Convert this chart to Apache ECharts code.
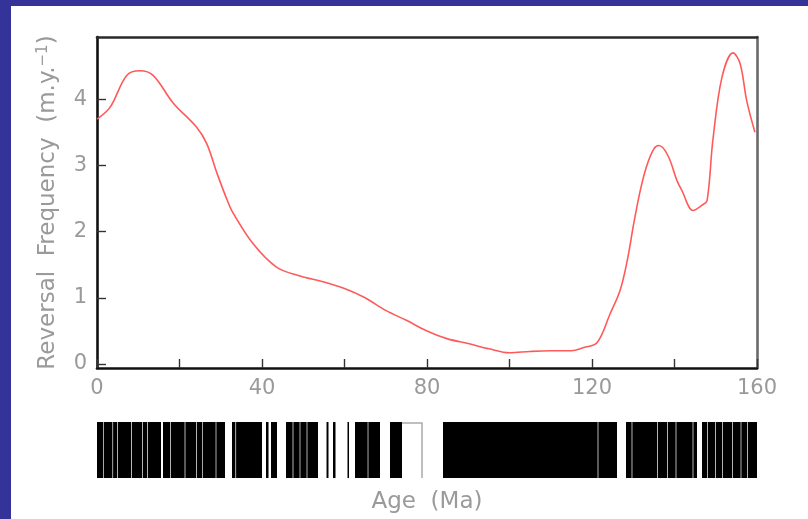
<!DOCTYPE html>
<html>
<head>
<meta charset="utf-8">
<script src="https://cdn.jsdelivr.net/npm/echarts@6/dist/echarts.min.js"></script>
<style>
html,body{margin:0;padding:0;width:808px;height:519px;background:#333399;overflow:hidden;}
#paper{position:absolute;left:11px;top:6px;right:0;bottom:0;background:#fff;}
#chart{position:absolute;left:0;top:0;width:808px;height:519px;}
</style>
</head>
<body>
<div id="paper"></div>
<div id="chart"></div>
<script>
// ---- Reversal frequency curve (age in Ma, frequency in reversals per m.y.) ----
const curveAge  = [0, 3.2, 7.2, 10.4, 13.6, 18.5, 24.1, 26.6, 29.1, 31.6, 33, 37.8, 43.6, 49.2, 55, 60, 65, 70, 75, 80, 85, 90, 95, 100, 105, 110, 115, 118, 121.2, 124.4, 126.8, 128.5, 130.2, 131.8, 133.3, 135, 136.2, 138.4, 140.6, 141.8, 144.5, 146.7, 147.9, 149.3, 151.5, 154.2, 155.9, 157.5, 159.5];
const curveFreq = [3.7, 3.88, 4.36, 4.43, 4.36, 3.94, 3.58, 3.33, 2.88, 2.47, 2.28, 1.82, 1.46, 1.33, 1.24, 1.14, 1.0, 0.81, 0.66, 0.5, 0.38, 0.31, 0.23, 0.17, 0.19, 0.2, 0.2, 0.25, 0.32, 0.76, 1.11, 1.55, 2.15, 2.65, 3.0, 3.25, 3.3, 3.15, 2.77, 2.62, 2.32, 2.4, 2.47, 3.38, 4.33, 4.7, 4.54, 3.98, 3.5];

// ---- Polarity time scale: normal (black) intervals, Ma ----
const normalStart = [0.00, 1.65, 3.90, 5.05, 8.45, 11.11, 12.32, 16.00, 17.90, 21.42, 24.20, 25.65, 28.93, 32.73, 33.72, 40.97, 42.18, 45.82, 47.60, 49.29, 50.99, 55.64, 57.21, 60.73, 62.55, 65.78, 71.03, 83.88, 121.54, 128.24, 129.78, 135.96, 138.38, 140.45, 144.57, 146.67, 148.08, 150.02, 151.72, 154.14, 156.20, 157.78];
const normalEnd   = [1.50, 3.74, 4.89, 8.28, 10.95, 12.16, 15.52, 17.74, 21.25, 24.04, 25.50, 28.77, 31.03, 33.55, 40.00, 41.58, 43.64, 47.43, 49.13, 50.83, 53.58, 56.12, 57.82, 61.09, 65.62, 68.61, 73.94, 121.37, 126.06, 129.61, 135.80, 138.22, 140.28, 144.40, 145.45, 147.92, 149.86, 151.56, 153.98, 156.04, 157.62, 160.00];
const uncertainStart = [73.94];
const uncertainEnd   = [78.79];

// ---- Axis ticks ----
const yTickValues  = [0, 1, 2, 3, 4];
const xTickValues  = [0, 20, 40, 60, 80, 100, 120, 140, 160];
const xLabelValues = [0, 40, 80, 120, 160];

const curveData = curveAge.map((a, i) => [a, curveFreq[i]]);
const normalData = normalStart.map((s, i) => [s, normalEnd[i]]);
const uncertainData = uncertainStart.map((s, i) => [s, uncertainEnd[i]]);

const FONT = 'DejaVu Sans';
const GREY = '#9a9a9a';

const chart = echarts.init(document.getElementById('chart'), null, {renderer: 'canvas'});
chart.setOption({
  backgroundColor: 'transparent',
  animation: false,
  grid: [
    {left: 97, right: 51, top: 37, height: 331},
    {left: 97, right: 51, top: 422, height: 56}
  ],
  xAxis: [
    {
      type: 'value', gridIndex: 0, min: 0, max: 160, position: 'bottom',
      axisLine: {show: true, onZero: false, lineStyle: {color: '#111', width: 2.6}},
      axisTick: {show: true, inside: true, length: 9, customValues: xTickValues, lineStyle: {color: '#333', width: 1.4}},
      axisLabel: {show: true, customValues: xLabelValues, margin: 10, color: GREY, fontFamily: FONT, fontSize: 21},
      splitLine: {show: false}
    },
    {
      type: 'value', gridIndex: 0, min: 0, max: 160, position: 'top',
      axisLine: {show: true, onZero: false, lineStyle: {color: '#2a2a2a', width: 2.6}},
      axisTick: {show: false}, axisLabel: {show: false}, splitLine: {show: false}
    },
    {
      type: 'value', gridIndex: 1, min: 0, max: 160,
      axisLine: {show: false}, axisTick: {show: false}, axisLabel: {show: false}, splitLine: {show: false},
      name: 'Age  (Ma)', nameLocation: 'middle', nameGap: 13,
      nameTextStyle: {color: GREY, fontFamily: FONT, fontSize: 23}
    }
  ],
  yAxis: [
    {
      type: 'value', gridIndex: 0, min: -0.06, max: 4.94, position: 'left',
      axisLine: {show: true, onZero: false, lineStyle: {color: '#111', width: 2.6}},
      axisTick: {show: true, inside: true, length: 9, customValues: yTickValues, lineStyle: {color: '#333', width: 1.4}},
      axisLabel: {show: true, customValues: yTickValues, margin: 10, color: GREY, fontFamily: FONT, fontSize: 21},
      splitLine: {show: false},
      name: 'Reversal  Frequency  (m.y.{sup|−1})', nameLocation: 'middle', nameGap: 36,
      nameTextStyle: {color: GREY, fontFamily: FONT, fontSize: 23,
        rich: {sup: {color: GREY, fontFamily: FONT, fontSize: 15, padding: [0, 0, 10, 0]}}}
    },
    {
      type: 'value', gridIndex: 0, min: -0.06, max: 4.94, position: 'right',
      axisLine: {show: true, onZero: false, lineStyle: {color: '#6a6a6a', width: 2.6}},
      axisTick: {show: false}, axisLabel: {show: false}, splitLine: {show: false}
    },
    {
      type: 'value', gridIndex: 1, min: 0, max: 1,
      axisLine: {show: false}, axisTick: {show: false}, axisLabel: {show: false}, splitLine: {show: false}
    }
  ],
  series: [
    {
      type: 'line', xAxisIndex: 0, yAxisIndex: 0, data: curveData,
      smooth: 0.35, showSymbol: false, symbol: 'none',
      lineStyle: {color: '#ff5a5a', width: 1.6}, z: 5
    },
    {
      type: 'custom', xAxisIndex: 2, yAxisIndex: 2, data: normalData,
      renderItem: function (params, api) {
        const p0 = api.coord([api.value(0), 0]);
        const p1 = api.coord([api.value(1), 1]);
        return {type: 'rect', shape: {x: p0[0], y: p1[1], width: p1[0] - p0[0], height: p0[1] - p1[1]},
          style: {fill: '#000'}};
      }
    },
    {
      type: 'custom', xAxisIndex: 2, yAxisIndex: 2, data: uncertainData,
      renderItem: function (params, api) {
        const p0 = api.coord([api.value(0), 0]);
        const p1 = api.coord([api.value(1), 1]);
        return {type: 'polyline', shape: {points: [[p0[0], p1[1] + 1], [p1[0], p1[1] + 1], [p1[0], p0[1]]]},
          style: {fill: null, stroke: '#aaa', lineWidth: 1.5}};
      }
    }
  ]
});
</script>
</body>
</html>
